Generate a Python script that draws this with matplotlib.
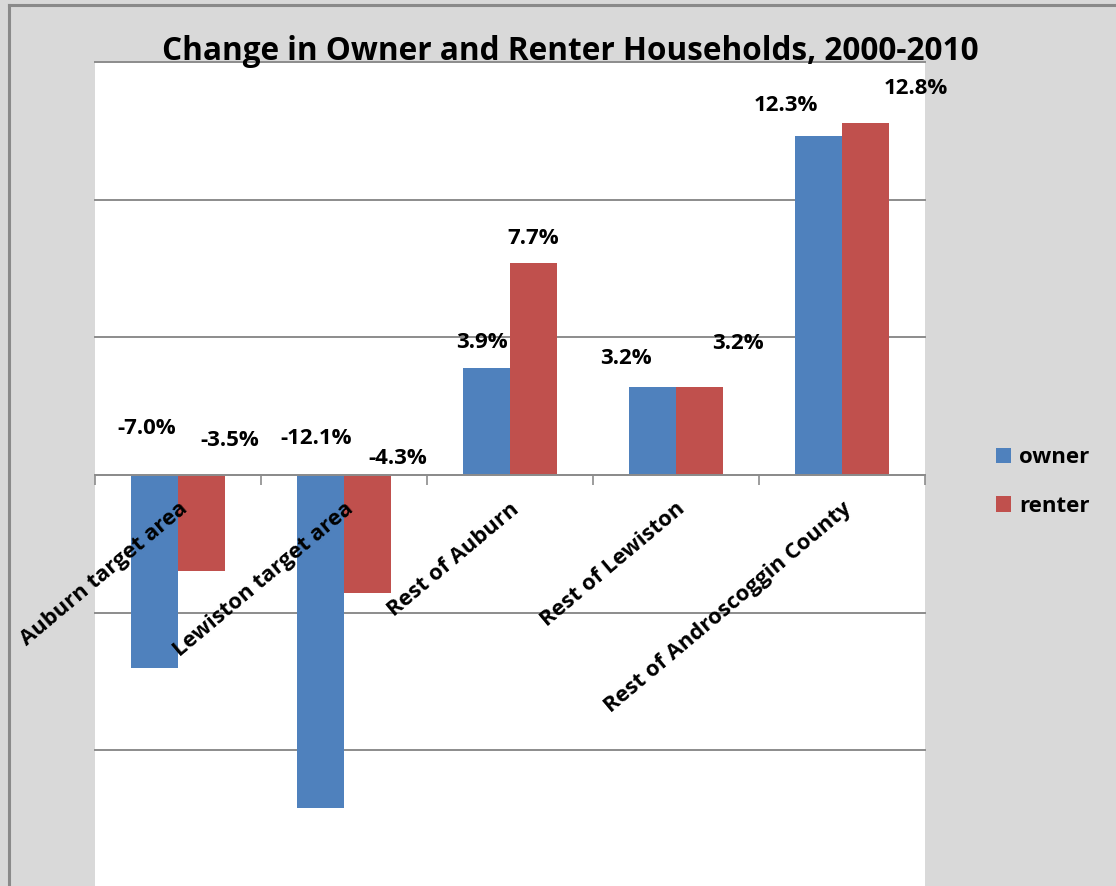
import matplotlib
matplotlib.use("Agg")
import matplotlib.pyplot as plt
from matplotlib.lines import Line2D
import numpy as np

plt.rcParams['font.family'] = ['Open Sans', 'DejaVu Sans']
plt.rcParams['font.weight'] = 'bold'

categories = ["Auburn target area", "Lewiston target area", "Rest of Auburn",
              "Rest of Lewiston", "Rest of Androscoggin County"]
owner = [-7.0, -12.1, 3.9, 3.2, 12.3]
renter = [-3.5, -4.3, 7.7, 3.2, 12.8]

# label nudges in pixels (as placed in the original)
owner_off = [(-8, 48), (-4, 37), (-5, 26), (-27, 29), (-33, 32)]
renter_off = [(28, 35), (30, 18), (0, 25), (38, 44), (50, 35)]

blue = "#4F81BD"
red = "#C0504D"
grey = "#8c8c8c"

fig = plt.figure(figsize=(11.16, 8.86), dpi=100, facecolor="#d9d9d9")
W, H = 1116, 886
ax = fig.add_axes([95 / W, -2 / H, 830 / W, 826 / H])
ax.set_facecolor("white")

x = np.arange(len(categories))
w = 0.283
b1 = ax.bar(x - w / 2, owner, w, color=blue, label="owner", zorder=3)
b2 = ax.bar(x + w / 2, renter, w, color=red, label="renter", zorder=3)

for vals, off, xs in [(owner, owner_off, x - w / 2), (renter, renter_off, x + w / 2)]:
    for xi, v, (dx, dy) in zip(xs, vals, off):
        ax.annotate(f"{v:.1f}%", (xi, max(v, 0)), xytext=(dx, dy - 1),
                    textcoords="offset pixels", ha="center", va="center",
                    fontsize=16, fontweight="bold", annotation_clip=False)

ax.set_xlim(-0.5, len(categories) - 0.5)
ax.set_ylim(-15, 15)
ax.set_yticks(np.arange(-15, 16, 5))
ax.yaxis.grid(True, color=grey, linewidth=1.4)
for gl in ax.get_ygridlines():
    gl.set_clip_on(False)
ax.set_axisbelow(True)
ax.xaxis.set_zorder(5)
ax.tick_params(axis="y", length=0, labelleft=False)

for s in ["left", "right", "top"]:
    ax.spines[s].set_visible(False)
ax.spines["bottom"].set_position(("data", 0))
ax.spines["bottom"].set_color(grey)
ax.spines["bottom"].set_linewidth(1.4)
ax.spines["bottom"].set_zorder(4)

ax.set_xticks(x)
ax.set_xticklabels(categories, rotation=40, ha="right", va="top",
                   rotation_mode="anchor", fontsize=15.8, fontweight="bold")
ax.set_xticks(np.arange(-0.5, len(categories), 1), minor=True)
ax.tick_params(axis="x", which="major", length=0, pad=17)
ax.tick_params(axis="x", which="minor", length=7, width=1.2, color=grey)

fig.text(570 / W, 1 - 51 / H, "Change in Owner and Renter Households, 2000-2010",
         ha="center", va="center", fontsize=22.7, fontweight="bold")

fig.legend(handles=[b1, b2], loc="center left", bbox_to_anchor=(976 / W, 1 - 482 / H),
           frameon=False, fontsize=16, handlelength=0.68, handleheight=0.68,
           handletextpad=0.35, labelspacing=1.25)

# chart border visible in the crop
fig.add_artist(Line2D([9 / W, 1], [1 - 5 / H, 1 - 5 / H], color="#8a8a8a", lw=2.2))
fig.add_artist(Line2D([9 / W, 9 / W], [0, 1 - 5 / H], color="#8a8a8a", lw=2.2))

plt.savefig("out.png", dpi=100, facecolor=fig.get_facecolor())
